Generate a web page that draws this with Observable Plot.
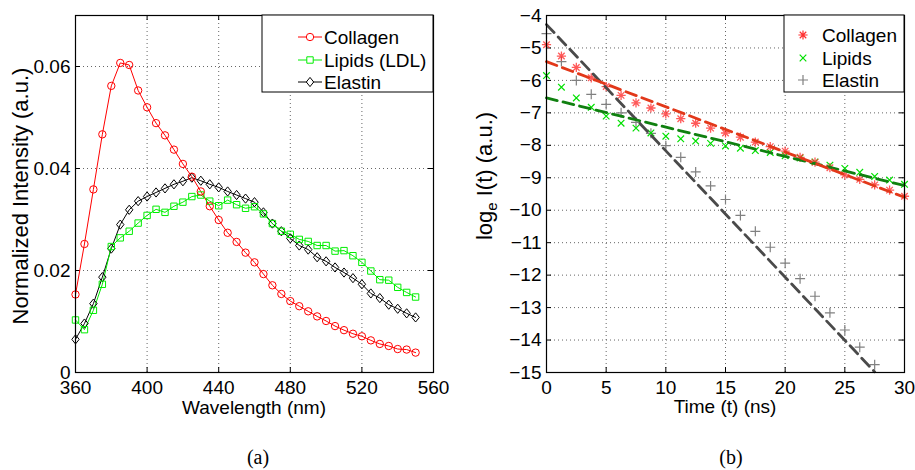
<!DOCTYPE html>
<html><head><meta charset="utf-8">
<script src="https://cdn.jsdelivr.net/npm/d3@7"></script>
<script src="https://cdn.jsdelivr.net/npm/@observablehq/plot@0.6"></script>
<style>
body{margin:0;background:#fff;}
#wrap{position:relative;width:915px;height:470px;background:#fff;overflow:hidden;}
#a,#b{position:absolute;top:0;}
#a{left:0;} #b{left:460px;}
.cap{position:absolute;top:447px;font-family:"Liberation Serif","Times New Roman",serif;font-size:20px;line-height:20px;width:60px;text-align:center;color:#000;}
</style></head>
<body>
<div id="wrap"><div id="a"></div><div id="b"></div>
<div class="cap" style="left:228px">(a)</div>
<div class="cap" style="left:701px">(b)</div>
</div>
<script>
// ---- Panel (a): emission spectra ----
const wavelength = [360,365,370,375,380,385,390,395,400,405,410,415,420,425,430,435,440,445,450,455,460,465,470,475,480,485,490,495,500,505,510,515,520,525,530,535,540,545,550];
const collagen = [0.0153,0.0252,0.0359,0.0467,0.0562,0.0607,0.0603,0.0553,0.0520,0.0489,0.0465,0.0437,0.0409,0.0384,0.0355,0.0326,0.0299,0.0274,0.0256,0.0235,0.0216,0.0193,0.0171,0.0154,0.0140,0.0130,0.0120,0.0110,0.0101,0.0091,0.0083,0.0076,0.0071,0.0063,0.0056,0.0052,0.0046,0.0045,0.0039];
const lipids = [0.0103,0.0084,0.0122,0.0173,0.0247,0.0264,0.0277,0.0293,0.0308,0.0320,0.0314,0.0326,0.0334,0.0345,0.0348,0.0336,0.0327,0.0338,0.0329,0.0322,0.0325,0.0311,0.0292,0.0277,0.0271,0.0261,0.0257,0.0249,0.0249,0.0238,0.0239,0.0229,0.0216,0.0199,0.0182,0.0181,0.0167,0.0157,0.0148];
const elastin = [0.0065,0.0096,0.0135,0.0187,0.0243,0.0290,0.0319,0.0336,0.0345,0.0353,0.0361,0.0369,0.0375,0.0382,0.0376,0.0369,0.0363,0.0355,0.0348,0.0341,0.0334,0.0314,0.0292,0.0277,0.0263,0.0249,0.0241,0.0226,0.0218,0.0206,0.0196,0.0185,0.0173,0.0155,0.0146,0.0133,0.0125,0.0116,0.0108];
const seriesA = ["Collagen","Lipids (LDL)","Elastin"];
const xTicksA = [360,400,440,480,520,560];
const yTicksA = [0,0.02,0.04,0.06];

// ---- Panel (b): log decay ----
const time = [0,1.25,2.5,3.75,5,6.25,7.5,8.75,10,11.25,12.5,13.75,15,16.25,17.5,18.75,20,21.25,22.5,23.75,25,26.25,27.5,28.75,30];
const collagenLog = [-4.90,-5.25,-5.60,-5.92,-6.19,-6.46,-6.69,-6.85,-7.03,-7.18,-7.32,-7.47,-7.62,-7.75,-7.90,-8.04,-8.18,-8.37,-8.52,-8.69,-8.91,-9.05,-9.22,-9.38,-9.57];
const lipidsLog = [-5.85,-6.21,-6.54,-6.83,-7.10,-7.32,-7.47,-7.62,-7.72,-7.80,-7.87,-7.94,-8.02,-8.09,-8.16,-8.22,-8.32,-8.39,-8.51,-8.61,-8.71,-8.83,-8.96,-9.07,-9.20];
const elastinLog = [-4.56,-5.42,-6.00,-6.43,-6.74,-7.00,-7.29,-7.63,-8.01,-8.37,-8.82,-9.25,-9.67,-10.16,-10.65,-11.14,-11.63,-12.11,-12.65,-13.16,-13.69,-14.22,-14.76];
const fitTime = [0,30];
const collagenFit = [-5.42,-9.60];
const lipidsFit = [-6.54,-9.24];
const elastinFitTime = [0,27.5];
const elastinFit = [-4.28,-14.98];
const seriesB = ["Collagen","Lipids","Elastin"];
const xTicksB = [0,5,10,15,20,25,30];
const yTicksB = [-4,-5,-6,-7,-8,-9,-10,-11,-12,-13,-14,-15];

const FONT = "Liberation Sans, Arial, Helvetica, sans-serif";
const gridStyle = {stroke:"#555", strokeOpacity:1, strokeWidth:0.9, strokeDasharray:"1,3"};
const minus = d => d < 0 ? "\u2212" + Math.abs(d) : String(d);

// custom marker shapes (MATLAB style)
const diamondM = {draw(c){const h=4.6,w=3.7;c.moveTo(0,-h);c.lineTo(w,0);c.lineTo(0,h);c.lineTo(-w,0);c.closePath();}};
const circleM = {draw(c){const r=3.7;c.moveTo(r,0);c.arc(0,0,r,0,2*Math.PI);}};
const squareM = {draw(c){const s=3.2;c.rect(-s,-s,2*s,2*s);}};
const asterM = {draw(c){const r=4.6,d=r*0.7071;c.moveTo(-r,0);c.lineTo(r,0);c.moveTo(0,-r);c.lineTo(0,r);c.moveTo(-d,-d);c.lineTo(d,d);c.moveTo(-d,d);c.lineTo(d,-d);}};
const timesM = {draw(c){const r=3.3;c.moveTo(-r,-r);c.lineTo(r,r);c.moveTo(-r,r);c.lineTo(r,-r);}};
const plusM = {draw(c){const r=5;c.moveTo(-r,0);c.lineTo(r,0);c.moveTo(0,-r);c.lineTo(0,r);}};

function inwardTicks(xt, yt, pw, ph) {
  const t = {stroke:"black", strokeWidth:1};
  return [
    Plot.tickX(xt, {x:d=>d, insetTop:ph-5, ...t}),
    Plot.tickX(xt, {x:d=>d, insetBottom:ph-5, ...t}),
    Plot.tickY(yt, {y:d=>d, insetRight:pw-5, ...t}),
    Plot.tickY(yt, {y:d=>d, insetLeft:pw-5, ...t})
  ];
}

// ---------- Panel (a) ----------
const W=455, H=420;
const mA = {l:75, r:22, t:15, b:48};
const pwA = W-mA.l-mA.r, phA = H-mA.t-mA.b;
const dataC = wavelength.map((w,i)=>({w, v:collagen[i]}));
const dataL = wavelength.map((w,i)=>({w, v:lipids[i]}));
const dataE = wavelength.map((w,i)=>({w, v:elastin[i]}));
const colA = ["#ff0000","#00ee00","#000000"];
const symA = [circleM, squareM, diamondM];

const plotA = Plot.plot({
  width:W, height:H, marginLeft:mA.l, marginRight:mA.r, marginTop:mA.t, marginBottom:mA.b,
  style:{fontFamily:FONT, fontSize:"19px", color:"black", background:"white", overflow:"visible"},
  x:{domain:[360,560], label:null},
  y:{domain:[0,0.07], label:null},
  marks:[
    Plot.gridX(xTicksA.slice(1,-1), gridStyle),
    Plot.gridY(yTicksA.slice(1), gridStyle),
    Plot.axisX(xTicksA, {tickSize:0, tickPadding:8, tickFormat:d=>String(d), label:null, fontSize:19}),
    Plot.axisY(yTicksA, {tickSize:0, tickPadding:5, tickFormat:d=>d===0?"0":d.toFixed(2), label:null, fontSize:19}),
    ...inwardTicks(xTicksA, yTicksA, pwA, phA),
    Plot.line(dataE, {x:"w", y:"v", stroke:colA[2], strokeWidth:1}),
    Plot.line(dataL, {x:"w", y:"v", stroke:colA[1], strokeWidth:1}),
    Plot.line(dataC, {x:"w", y:"v", stroke:colA[0], strokeWidth:1}),
    Plot.dot(dataE, {x:"w", y:"v", stroke:colA[2], fill:"none", symbol:diamondM, strokeWidth:1}),
    Plot.dot(dataL, {x:"w", y:"v", stroke:colA[1], fill:"none", symbol:squareM, strokeWidth:1}),
    Plot.dot(dataC, {x:"w", y:"v", stroke:colA[0], fill:"none", symbol:circleM, strokeWidth:1}),
    Plot.frame({stroke:"black", strokeWidth:1.2})
  ]
});
document.getElementById("a").appendChild(plotA);

// ---------- Panel (b) ----------
const mB = {l:86, r:11, t:15, b:48};
const pwB = W-mB.l-mB.r, phB = H-mB.t-mB.b;
const ptsC = time.map((t,i)=>({t, v:collagenLog[i]}));
const ptsL = time.map((t,i)=>({t, v:lipidsLog[i]}));
const ptsE = elastinLog.map((v,i)=>({t:time[i], v}));
const fitC = fitTime.map((t,i)=>({t, v:collagenFit[i]}));
const fitL = fitTime.map((t,i)=>({t, v:lipidsFit[i]}));
const fitE = elastinFitTime.map((t,i)=>({t, v:elastinFit[i]}));
const colB = ["#ff3030","#00e000","#808080"];
const fitCol = ["#e2381a","#108010","#4a4a4a"];
const symB = [asterM, timesM, plusM];
const dash = {strokeWidth:2.8, strokeDasharray:"11,6"};

const plotB = Plot.plot({
  width:W, height:H, marginLeft:mB.l, marginRight:mB.r, marginTop:mB.t, marginBottom:mB.b,
  style:{fontFamily:FONT, fontSize:"19px", color:"black", background:"white", overflow:"visible"},
  x:{domain:[0,30], label:null},
  y:{domain:[-15,-4], label:null},
  marks:[
    Plot.gridX(xTicksB.slice(1,-1), gridStyle),
    Plot.gridY(yTicksB.slice(1,-1), gridStyle),
    Plot.axisX(xTicksB, {tickSize:0, tickPadding:8, tickFormat:d=>String(d), label:null, fontSize:19}),
    Plot.axisY(yTicksB, {tickSize:0, tickPadding:5, tickFormat:minus, label:null, fontSize:19}),
    ...inwardTicks(xTicksB, yTicksB, pwB, phB),
    Plot.dot(ptsE, {x:"t", y:"v", stroke:colB[2], fill:"none", symbol:plusM, strokeWidth:1.2}),
    Plot.dot(ptsL, {x:"t", y:"v", stroke:colB[1], fill:"none", symbol:timesM, strokeWidth:1.2}),
    Plot.dot(ptsC, {x:"t", y:"v", stroke:colB[0], fill:"none", symbol:asterM, strokeWidth:1.3, strokeOpacity:0.8}),
    Plot.line(fitE, {x:"t", y:"v", stroke:fitCol[2], ...dash}),
    Plot.line(fitL, {x:"t", y:"v", stroke:fitCol[1], ...dash}),
    Plot.line(fitC, {x:"t", y:"v", stroke:fitCol[0], ...dash}),
    Plot.frame({stroke:"black", strokeWidth:1.2})
  ]
});
document.getElementById("b").appendChild(plotB);

// ---------- titles & legends ----------
function addText(svg, x, y, txt, opts={}) {
  return d3.select(svg).append("text").attr("x",x).attr("y",y)
    .attr("font-family",FONT).attr("font-size",opts.size||19).attr("fill","black")
    .attr("text-anchor",opts.anchor||"middle").text(txt);
}
addText(plotA, mA.l+pwA/2, 414, "Wavelength (nm)");
addText(plotB, mB.l+pwB/2, 413, "Time (t) (ns)");
d3.select(plotA).append("text").attr("transform","translate(28,196) rotate(-90)")
  .attr("font-family",FONT).attr("font-size",22).attr("text-anchor","middle").attr("fill","black")
  .text("Normalized Intensity (a.u.)");
const yl = d3.select(plotB).append("text").attr("transform","translate(32,176) rotate(-90)")
  .attr("font-family",FONT).attr("font-size",22).attr("text-anchor","middle").attr("fill","black");
yl.append("tspan").text("log");
yl.append("tspan").attr("font-size",15).attr("dy",5).text("e");
yl.append("tspan").attr("dy",-5).text(" I(t) (a.u.)");

// legend (a)
{
  const g = d3.select(plotA).append("g").attr("text-anchor","start");
  g.append("rect").attr("x",262).attr("y",15).attr("width",433-262).attr("height",77)
    .attr("fill","white").attr("stroke","black").attr("stroke-width",1);
  const rows=[37,60,82];
  seriesA.forEach((s,i)=>{
    g.append("line").attr("x1",298).attr("x2",322).attr("y1",rows[i]).attr("y2",rows[i]).attr("stroke",colA[i]).attr("stroke-width",1);
    g.append("path").attr("d",d3.symbol(symA[i])()).attr("transform",`translate(310,${rows[i]})`).attr("fill","white").attr("stroke",colA[i]);
    g.append("text").attr("x",324).attr("y",rows[i]+6.8).attr("text-anchor","start").attr("font-family",FONT).attr("font-size",19).attr("fill","black").text(s);
  });
}
// legend (b)
{
  const g = d3.select(plotB).append("g").attr("text-anchor","start");
  g.append("rect").attr("x",324).attr("y",15).attr("width",444-324).attr("height",77)
    .attr("fill","white").attr("stroke","black").attr("stroke-width",1);
  const rows=[35,58,80];
  seriesB.forEach((s,i)=>{
    g.append("path").attr("d",d3.symbol(symB[i])()).attr("transform",`translate(343,${rows[i]})`).attr("fill","none").attr("stroke",colB[i]).attr("stroke-width",1.2);
    g.append("text").attr("x",362).attr("y",rows[i]+6.8).attr("text-anchor","start").attr("font-family",FONT).attr("font-size",19).attr("fill","black").text(s);
  });
}
</script>
</body></html>
